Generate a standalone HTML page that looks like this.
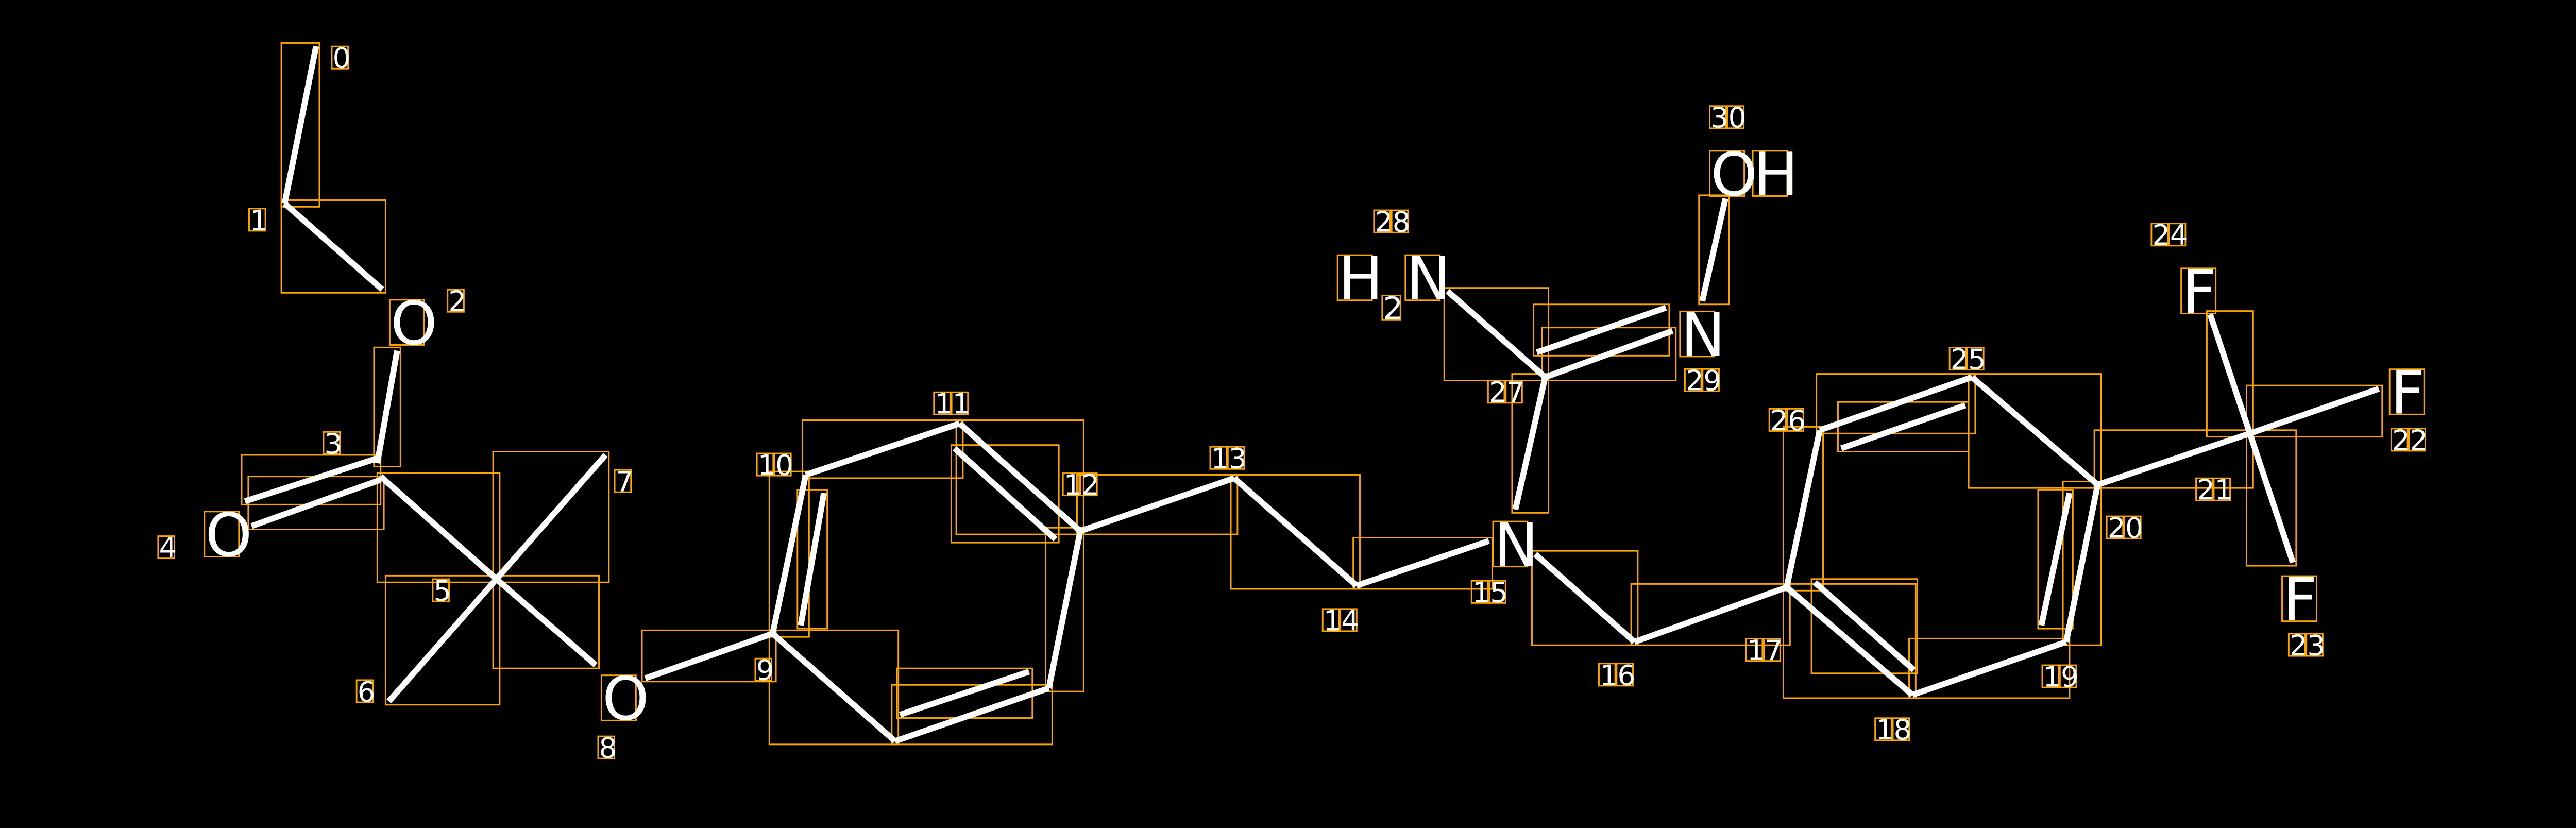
<!DOCTYPE html>
<html><head><meta charset="utf-8">
<style>html,body{margin:0;padding:0;background:#000;overflow:hidden}svg{display:block}</style>
</head><body>
<svg id="s" xmlns="http://www.w3.org/2000/svg" width="5035" height="1607" viewBox="0 0 1568 500.5">
<rect width="1568" height="500.5" fill="#000"/>
<g id="boxes" fill="none" stroke="#FFA500" stroke-width="0.9"></g>
<g id="bonds" stroke="#fff" stroke-width="3.6" stroke-linecap="butt"></g>
<g id="labels" fill="#fff" font-family="DejaVu Sans, Liberation Sans, sans-serif"></g>
</svg>
<script>
var NS="http://www.w3.org/2000/svg";
function el(p,t,a){var e=document.createElementNS(NS,t);for(var k in a)e.setAttribute(k,a[k]);document.getElementById(p).appendChild(e);return e;}
var B=[
[191,28,172,123],[172,123,231,175],[240,212,228,280],
[228,277,148,303],[230,290,152,318],
[230,288,300,350],[300,350,366,275],[300,350,235,424],[300,350,360,402],
[390,410,467,383],[467,383,487,287],[484,378,498,298],
[487,287,580,256],[580,256,653,321],[577,271,638,326],
[653,321,634,416],[634,416,541,448],[544,432,622,406],[467,383,541,448],
[653,321,746,289],[746,289,820,354],[820,354,900,327],
[928,335,988,388],[988,388,1080,355],
[1080,355,1156,420],[1097,352,1157,405],
[1156,420,1249,388],[1249,388,1268,293],[1234,378,1251,298],
[1268,293,1192,228],[1192,228,1100,260],[1113,271,1188,245],[1100,260,1080,355],
[1268,293,1360,262],[1360,262,1336,190],[1360,262,1438,235],[1360,262,1386,340],
[916,308,934,228],[934,228,875,176],[929,213,1007,186],[934,228,1011,200],[1029,182,1043,120]
];
B.forEach(function(b){
 el("bonds","line",{x1:b[0],y1:b[1],x2:b[2],y2:b[3]});
 var x=Math.min(b[0],b[2])-2,y=Math.min(b[1],b[3])-2;
 el("boxes","rect",{x:x,y:y,width:Math.abs(b[2]-b[0])+4,height:Math.abs(b[3]-b[1])+4});
});
function lab(t,x,y,fs){
 var adv=fs*0.63, cap=fs*0.73;
 for(var i=0;i<t.length;i++){
  var cx=x+i*adv;
  el("labels","text",{x:cx,y:y,"font-size":fs}).textContent=t[i];
  el("boxes","rect",{x:cx-0.5,y:y-cap-0.5,width:adv*0.92,height:cap+1});
 }
}
var S=17,A=36;
var nums=[["0",201,41],["1",151,139],["2",271,188],["3",196,274],["4",96,337],["5",262,363],["6",216,424],["7",372,297],["8",362,458],["9",457,411],["10",458,287],["11",565,250],["12",643,299],["13",732,283],["14",800,381],["15",890,364],["16",967,414],["17",1056,399],["18",1134,447],["19",1235,415],["20",1274,325],["21",1328,302],["22",1446,272],["23",1384,396],["24",1301,148],["25",1179,223],["26",1070,260],["27",900,243],["28",831,140],["29",1019,236],["30",1034,77]];
nums.forEach(function(n){lab(n[0],n[1],n[2],S);});
lab("O",236,208,A);lab("O",124,336,A);lab("O",364,435,A);
lab("N",903,342,A);lab("N",1016,215,A);
lab("H",809,181,A);lab("2",836,193,S+2);lab("N",850,181,A);
lab("O",1034,118,A);lab("H",1060,118,A);
lab("F",1319,189,A);lab("F",1445,250,A);lab("F",1380,375,A);
</script>
</body></html>
